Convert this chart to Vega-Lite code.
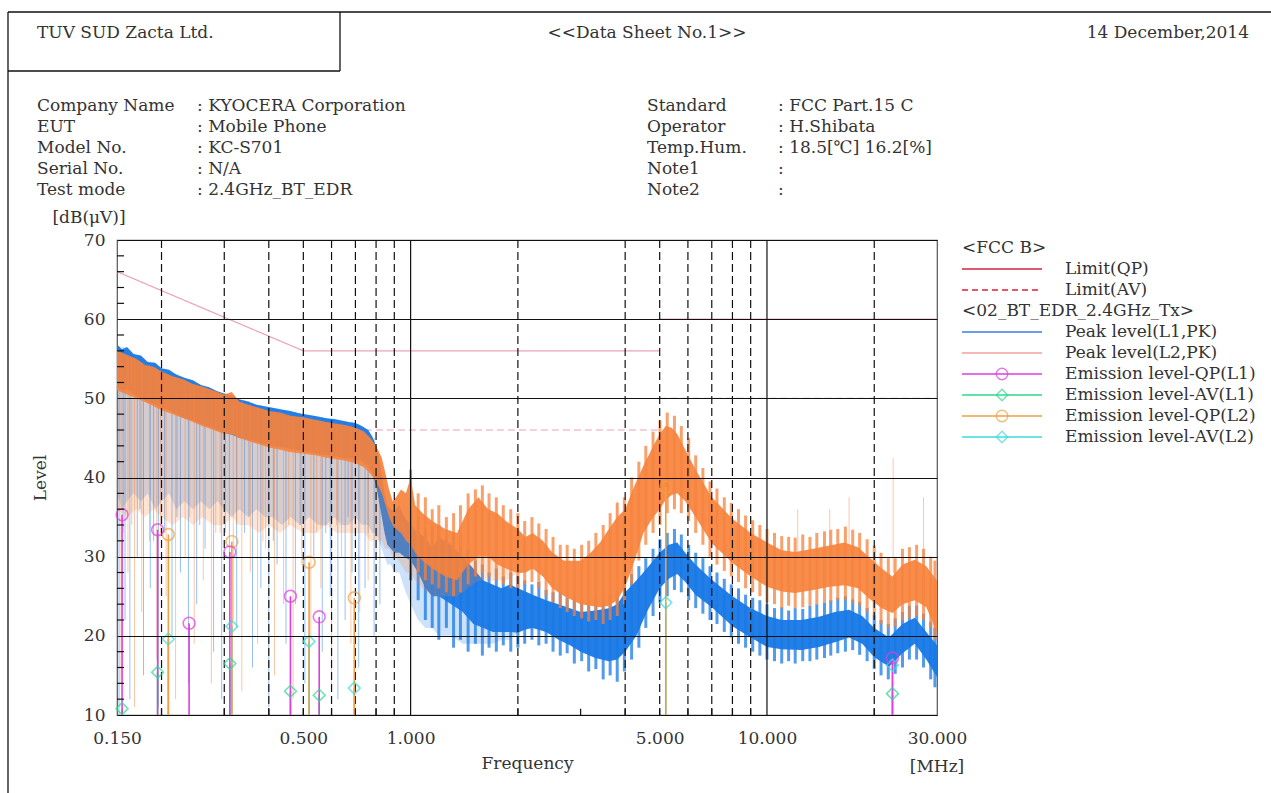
{
  "$schema": "https://vega.github.io/schema/vega-lite/v6.json",
  "width": 820,
  "height": 475,
  "autosize": {"type": "none"},
  "padding": {"left": 117, "top": 240, "right": 334, "bottom": 78},
  "background": "white",
  "config": {
    "view": {"stroke": "#555", "strokeWidth": 1.2},
    "font": "DejaVu Serif",
    "axis": {"labelFont": "DejaVu Serif", "titleFont": "DejaVu Serif", "labelFontSize": 17, "titleFontSize": 17, "labelColor": "#333", "titleColor": "#333", "titleFontWeight": "normal"}
  },
  "datasets": {
    "gridMinor": [{"f":0.2},{"f":0.3},{"f":0.4},{"f":0.5},{"f":0.6},{"f":0.7},{"f":0.8},{"f":0.9},{"f":2},{"f":4},{"f":5},{"f":6},{"f":7},{"f":8},{"f":9},{"f":20}],
    "gridMajor": [{"f":1},{"f":10}],
    "xt": [{"f":0.2},{"f":0.3},{"f":0.4},{"f":0.5},{"f":0.6},{"f":0.7},{"f":0.8},{"f":0.9},{"f":2},{"f":3},{"f":4},{"f":5},{"f":6},{"f":7},{"f":8},{"f":9},{"f":20}],
    "yt": [{"v":12},{"v":14},{"v":16},{"v":18},{"v":22},{"v":24},{"v":26},{"v":28},{"v":32},{"v":34},{"v":36},{"v":38},{"v":42},{"v":44},{"v":46},{"v":48},{"v":52},{"v":54},{"v":56},{"v":58},{"v":62},{"v":64},{"v":66},{"v":68}],
    "limits": [
      {"lim":"QP","seg":"QP1","f":0.15,"v":66},{"lim":"QP","seg":"QP1","f":0.5,"v":56},{"lim":"QP","seg":"QP1","f":5,"v":56},
      {"lim":"QP","seg":"QP2","f":5,"v":60},{"lim":"QP","seg":"QP2","f":30,"v":60},
      {"lim":"AV","seg":"AV1","f":0.15,"v":56},{"lim":"AV","seg":"AV1","f":0.5,"v":46},{"lim":"AV","seg":"AV1","f":5,"v":46},
      {"lim":"AV","seg":"AV2","f":5,"v":50},{"lim":"AV","seg":"AV2","f":30,"v":50}
    ],
    "pk1": [
      {"f":0.150,"hi":56.8,"lo":51.5,"lo2":38},{"f":0.155,"hi":56.2,"lo":51.0,"lo2":36},{"f":0.160,"hi":56.5,"lo":51.2,"lo2":37},{"f":0.167,"hi":55.6,"lo":50.5,"lo2":38},
      {"f":0.175,"hi":55.4,"lo":50.0,"lo2":37},{"f":0.183,"hi":54.6,"lo":49.6,"lo2":38},{"f":0.192,"hi":54.5,"lo":49.2,"lo2":36},{"f":0.200,"hi":53.8,"lo":48.8,"lo2":37},
      {"f":0.210,"hi":53.6,"lo":48.5,"lo2":38},{"f":0.220,"hi":53.0,"lo":48.0,"lo2":36},{"f":0.232,"hi":52.6,"lo":47.5,"lo2":37},{"f":0.245,"hi":52.3,"lo":47.2,"lo2":36},
      {"f":0.258,"hi":51.7,"lo":46.8,"lo2":37},{"f":0.272,"hi":51.4,"lo":46.4,"lo2":36},{"f":0.287,"hi":50.9,"lo":46.0,"lo2":37},{"f":0.300,"hi":50.6,"lo":45.6,"lo2":36},
      {"f":0.315,"hi":50.4,"lo":45.4,"lo2":35},{"f":0.330,"hi":49.9,"lo":45.0,"lo2":36},{"f":0.350,"hi":49.6,"lo":44.8,"lo2":35},{"f":0.370,"hi":49.2,"lo":44.5,"lo2":36},
      {"f":0.390,"hi":49.0,"lo":44.2,"lo2":35},{"f":0.410,"hi":48.8,"lo":44.0,"lo2":35},{"f":0.435,"hi":48.6,"lo":43.8,"lo2":34},{"f":0.460,"hi":48.4,"lo":43.6,"lo2":35},
      {"f":0.490,"hi":48.1,"lo":43.4,"lo2":34},{"f":0.520,"hi":47.9,"lo":43.2,"lo2":35},{"f":0.550,"hi":47.7,"lo":43.0,"lo2":34},{"f":0.580,"hi":47.5,"lo":42.8,"lo2":34},
      {"f":0.610,"hi":47.4,"lo":42.7,"lo2":35},{"f":0.640,"hi":47.2,"lo":42.5,"lo2":34},{"f":0.670,"hi":47.0,"lo":42.4,"lo2":34},{"f":0.700,"hi":46.9,"lo":42.3,"lo2":35},
      {"f":0.730,"hi":46.5,"lo":42.0,"lo2":34},{"f":0.760,"hi":46.0,"lo":41.5,"lo2":34},{"f":0.780,"hi":45.2,"lo":40.5,"lo2":33},{"f":0.800,"hi":44.0,"lo":39.0,"lo2":33},
      {"f":0.815,"hi":42.5,"lo":37.0,"lo2":32},{"f":0.830,"hi":40.5,"lo":35.0,"lo2":31},{"f":0.845,"hi":38.0,"lo":33.0,"lo2":30},{"f":0.860,"hi":36.5,"lo":31.5,"lo2":29},
      {"f":0.880,"hi":36.0,"lo":31.0,"lo2":29},{"f":0.900,"hi":35.8,"lo":30.5,"lo2":28},{"f":0.930,"hi":36.5,"lo":30.5,"lo2":28},{"f":0.960,"hi":35.0,"lo":30.0,"lo2":26},
      {"f":1.000,"hi":34.0,"lo":29.5,"lo2":24},{"f":1.050,"hi":33.0,"lo":28.0,"lo2":22},{"f":1.100,"hi":32.5,"lo":26.0,"lo2":21},{"f":1.150,"hi":31.0,"lo":25.0,"lo2":21},
      {"f":1.200,"hi":32.5,"lo":25.0,"lo2":20},{"f":1.300,"hi":31.5,"lo":24.0,"lo2":20},{"f":1.400,"hi":30.0,"lo":23.0,"lo2":19},{"f":1.500,"hi":28.5,"lo":21.5,"lo2":19},
      {"f":1.600,"hi":27.0,"lo":21.0,"lo2":19},{"f":1.700,"hi":26.5,"lo":20.5,"lo2":19},{"f":1.800,"hi":26.0,"lo":20.5,"lo2":19.5},{"f":1.900,"hi":26.5,"lo":20.5,"lo2":19.5},
      {"f":2.000,"hi":26.0,"lo":20.4,"lo2":20.4},{"f":2.100,"hi":25.6,"lo":20.8,"lo2":20.8},{"f":2.200,"hi":25.2,"lo":21.0,"lo2":21.0},{"f":2.400,"hi":24.5,"lo":20.5,"lo2":20.5},
      {"f":2.600,"hi":24.0,"lo":19.5,"lo2":19.5},{"f":2.800,"hi":23.5,"lo":18.8,"lo2":18.8},{"f":3.000,"hi":23.0,"lo":18.0,"lo2":18.0},{"f":3.300,"hi":23.2,"lo":17.2,"lo2":17.2},
      {"f":3.600,"hi":23.5,"lo":16.8,"lo2":16.8},{"f":3.800,"hi":24.0,"lo":17.0,"lo2":17.0},{"f":4.000,"hi":25.5,"lo":18.0,"lo2":18.0},{"f":4.300,"hi":27.0,"lo":20.0,"lo2":20.0},
      {"f":4.600,"hi":28.5,"lo":23.0,"lo2":23.0},{"f":5.000,"hi":30.5,"lo":26.0,"lo2":26.0},{"f":5.300,"hi":31.5,"lo":27.2,"lo2":27.2},{"f":5.600,"hi":31.8,"lo":27.8,"lo2":27.8},
      {"f":5.900,"hi":30.5,"lo":26.8,"lo2":26.8},{"f":6.300,"hi":29.0,"lo":25.2,"lo2":25.2},{"f":7.000,"hi":27.1,"lo":23.6,"lo2":23.6},{"f":8.000,"hi":25.0,"lo":21.2,"lo2":21.2},
      {"f":9.000,"hi":23.5,"lo":19.8,"lo2":19.8},{"f":10.00,"hi":22.5,"lo":18.6,"lo2":18.6},{"f":11.00,"hi":22.0,"lo":18.3,"lo2":18.3},{"f":12.50,"hi":22.0,"lo":18.2,"lo2":18.2},
      {"f":14.00,"hi":22.4,"lo":18.6,"lo2":18.6},{"f":15.50,"hi":23.0,"lo":19.2,"lo2":19.2},{"f":17.00,"hi":23.3,"lo":19.8,"lo2":19.8},{"f":18.50,"hi":22.5,"lo":19.0,"lo2":19.0},
      {"f":20.00,"hi":21.0,"lo":17.3,"lo2":17.3},{"f":22.00,"hi":19.8,"lo":16.1,"lo2":16.1},{"f":24.00,"hi":21.5,"lo":17.8,"lo2":17.8},{"f":26.00,"hi":22.3,"lo":19.0,"lo2":19.0},
      {"f":28.00,"hi":20.5,"lo":17.0,"lo2":17.0},{"f":30.00,"hi":18.8,"lo":14.8,"lo2":14.8}
    ],
    "pk2": [
      {"f":0.150,"hi":56.0,"lo":51.0,"lo2":36},{"f":0.160,"hi":55.5,"lo":50.5,"lo2":35},{"f":0.170,"hi":55.0,"lo":50.0,"lo2":36},{"f":0.180,"hi":54.2,"lo":49.5,"lo2":35},
      {"f":0.190,"hi":54.0,"lo":49.0,"lo2":36},{"f":0.200,"hi":53.4,"lo":48.5,"lo2":35},{"f":0.215,"hi":52.8,"lo":48.0,"lo2":34},{"f":0.230,"hi":52.4,"lo":47.5,"lo2":35},
      {"f":0.245,"hi":51.8,"lo":47.0,"lo2":34},{"f":0.260,"hi":51.5,"lo":46.5,"lo2":35},{"f":0.280,"hi":51.0,"lo":46.0,"lo2":34},{"f":0.300,"hi":50.5,"lo":45.5,"lo2":34},
      {"f":0.315,"hi":50.8,"lo":45.5,"lo2":35},{"f":0.330,"hi":49.6,"lo":45.0,"lo2":34},{"f":0.350,"hi":49.2,"lo":44.6,"lo2":34},{"f":0.375,"hi":48.8,"lo":44.2,"lo2":33},
      {"f":0.400,"hi":48.4,"lo":43.8,"lo2":34},{"f":0.430,"hi":48.2,"lo":43.5,"lo2":33},{"f":0.460,"hi":47.8,"lo":43.2,"lo2":34},{"f":0.500,"hi":47.6,"lo":43.0,"lo2":33},
      {"f":0.540,"hi":47.3,"lo":42.8,"lo2":33},{"f":0.580,"hi":47.0,"lo":42.5,"lo2":34},{"f":0.620,"hi":46.8,"lo":42.3,"lo2":33},{"f":0.660,"hi":46.6,"lo":42.1,"lo2":33},
      {"f":0.700,"hi":46.3,"lo":41.8,"lo2":33},{"f":0.740,"hi":45.8,"lo":41.3,"lo2":33},{"f":0.770,"hi":45.0,"lo":40.5,"lo2":32},{"f":0.800,"hi":44.0,"lo":39.5,"lo2":32},
      {"f":0.830,"hi":42.5,"lo":38.0,"lo2":32},{"f":0.850,"hi":40.5,"lo":36.5,"lo2":31},{"f":0.870,"hi":38.5,"lo":35.0,"lo2":31},{"f":0.890,"hi":37.0,"lo":34.0,"lo2":30},
      {"f":0.910,"hi":37.5,"lo":33.5,"lo2":30},{"f":0.940,"hi":38.5,"lo":33.0,"lo2":29},{"f":0.970,"hi":38.0,"lo":32.0,"lo2":28},{"f":1.000,"hi":40.0,"lo":31.5,"lo2":28},
      {"f":1.030,"hi":36.5,"lo":30.5,"lo2":27},{"f":1.080,"hi":35.5,"lo":29.5,"lo2":26},{"f":1.150,"hi":34.5,"lo":28.5,"lo2":25},{"f":1.250,"hi":33.5,"lo":27.5,"lo2":25},
      {"f":1.350,"hi":33.0,"lo":27.0,"lo2":25},{"f":1.450,"hi":36.0,"lo":29.0,"lo2":26},{"f":1.550,"hi":37.5,"lo":30.0,"lo2":27},{"f":1.650,"hi":36.0,"lo":30.0,"lo2":27},
      {"f":1.750,"hi":35.5,"lo":29.0,"lo2":27},{"f":1.850,"hi":34.5,"lo":28.5,"lo2":27},{"f":2.000,"hi":33.5,"lo":27.9,"lo2":27.9},{"f":2.100,"hi":32.5,"lo":28.0,"lo2":28.0},
      {"f":2.200,"hi":33.0,"lo":28.5,"lo2":28.5},{"f":2.350,"hi":32.0,"lo":27.5,"lo2":27.5},{"f":2.500,"hi":30.5,"lo":26.0,"lo2":26.0},{"f":2.700,"hi":29.5,"lo":25.0,"lo2":25.0},
      {"f":3.000,"hi":29.5,"lo":24.0,"lo2":24.0},{"f":3.200,"hi":30.5,"lo":23.8,"lo2":23.8},{"f":3.400,"hi":31.8,"lo":23.6,"lo2":23.6},{"f":3.600,"hi":33.5,"lo":23.8,"lo2":23.8},
      {"f":3.800,"hi":35.0,"lo":24.5,"lo2":24.5},{"f":4.000,"hi":36.0,"lo":26.2,"lo2":26.2},{"f":4.250,"hi":39.0,"lo":29.5,"lo2":29.5},{"f":4.500,"hi":41.5,"lo":33.0,"lo2":33.0},
      {"f":4.800,"hi":44.0,"lo":35.0,"lo2":35.0},{"f":5.000,"hi":45.5,"lo":36.0,"lo2":36.0},{"f":5.200,"hi":46.5,"lo":37.2,"lo2":37.2},{"f":5.400,"hi":46.3,"lo":37.8,"lo2":37.8},
      {"f":5.600,"hi":45.5,"lo":38.0,"lo2":38.0},{"f":5.900,"hi":43.5,"lo":37.0,"lo2":37.0},{"f":6.300,"hi":41.0,"lo":35.0,"lo2":35.0},{"f":7.000,"hi":37.5,"lo":31.7,"lo2":31.7},
      {"f":8.000,"hi":34.8,"lo":29.2,"lo2":29.2},{"f":9.000,"hi":33.0,"lo":27.5,"lo2":27.5},{"f":10.00,"hi":31.8,"lo":26.2,"lo2":26.2},{"f":11.00,"hi":30.8,"lo":25.6,"lo2":25.6},
      {"f":12.00,"hi":30.6,"lo":25.4,"lo2":25.4},{"f":13.50,"hi":31.0,"lo":25.8,"lo2":25.8},{"f":15.00,"hi":31.4,"lo":26.2,"lo2":26.2},{"f":16.50,"hi":31.8,"lo":26.4,"lo2":26.4},
      {"f":18.00,"hi":31.2,"lo":26.0,"lo2":26.0},{"f":19.50,"hi":29.8,"lo":24.6,"lo2":24.6},{"f":21.00,"hi":28.5,"lo":23.5,"lo2":23.5},{"f":22.50,"hi":27.5,"lo":22.9,"lo2":22.9},
      {"f":24.00,"hi":29.0,"lo":24.0,"lo2":24.0},{"f":26.00,"hi":29.6,"lo":24.5,"lo2":24.5},{"f":28.00,"hi":28.8,"lo":23.6,"lo2":23.6},{"f":30.00,"hi":27.0,"lo":20.4,"lo2":20.4}
    ],
    "sp1": [
      {"f":0.152,"top":56,"bot":10},{"f":0.158,"top":55.5,"bot":22},{"f":0.163,"top":55,"bot":12},{"f":0.171,"top":55,"bot":30},{"f":0.178,"top":54.5,"bot":15},
      {"f":0.186,"top":54,"bot":26},{"f":0.196,"top":53.5,"bot":11},{"f":0.204,"top":53,"bot":33},{"f":0.214,"top":52.8,"bot":20},{"f":0.226,"top":52.4,"bot":28},
      {"f":0.238,"top":52,"bot":14},{"f":0.251,"top":51.6,"bot":24},{"f":0.265,"top":51.2,"bot":31},{"f":0.280,"top":51,"bot":18},{"f":0.295,"top":50.6,"bot":12},
      {"f":0.310,"top":50.3,"bot":27},{"f":0.325,"top":50,"bot":21},{"f":0.342,"top":49.7,"bot":33},{"f":0.360,"top":49.4,"bot":16},{"f":0.380,"top":49.1,"bot":26},
      {"f":0.400,"top":48.9,"bot":11},{"f":0.422,"top":48.7,"bot":29},{"f":0.447,"top":48.5,"bot":19},{"f":0.475,"top":48.2,"bot":24},{"f":0.505,"top":48,"bot":14},
      {"f":0.535,"top":47.8,"bot":30},{"f":0.565,"top":47.6,"bot":18},{"f":0.595,"top":47.4,"bot":25},{"f":0.625,"top":47.3,"bot":12},{"f":0.655,"top":47.1,"bot":22},
      {"f":0.685,"top":47,"bot":28},{"f":0.715,"top":46.7,"bot":16},{"f":0.745,"top":46.2,"bot":26},{"f":0.790,"top":45,"bot":20},{"f":0.820,"top":42,"bot":24},
      {"f":0.156,"top":56.5,"bot":33},{"f":0.174,"top":55.2,"bot":36},{"f":0.190,"top":54.3,"bot":32},{"f":0.221,"top":53,"bot":35},{"f":0.256,"top":51.8,"bot":34},
      {"f":0.302,"top":50.6,"bot":33},{"f":0.352,"top":49.6,"bot":35},{"f":0.412,"top":48.8,"bot":32},{"f":0.490,"top":48.1,"bot":34},{"f":0.578,"top":47.5,"bot":33},
      {"f":0.668,"top":47,"bot":35},{"f":0.760,"top":46,"bot":33}
    ],
    "sp2": [
      {"f":0.154,"top":55.8,"bot":14},{"f":0.161,"top":55.4,"bot":28},{"f":0.168,"top":55,"bot":11},{"f":0.176,"top":54.6,"bot":23},{"f":0.185,"top":54.2,"bot":32},
      {"f":0.194,"top":53.8,"bot":17},{"f":0.206,"top":53.2,"bot":25},{"f":0.219,"top":52.7,"bot":12},{"f":0.233,"top":52.3,"bot":30},{"f":0.247,"top":51.8,"bot":19},
      {"f":0.262,"top":51.4,"bot":27},{"f":0.276,"top":51,"bot":14},{"f":0.292,"top":50.6,"bot":33},{"f":0.318,"top":50.5,"bot":22},{"f":0.336,"top":49.6,"bot":13},
      {"f":0.355,"top":49.2,"bot":28},{"f":0.372,"top":48.9,"bot":19},{"f":0.392,"top":48.6,"bot":31},{"f":0.415,"top":48.3,"bot":15},{"f":0.440,"top":48.1,"bot":24},
      {"f":0.468,"top":47.8,"bot":12},{"f":0.495,"top":47.6,"bot":29},{"f":0.525,"top":47.4,"bot":20},{"f":0.560,"top":47.1,"bot":26},{"f":0.600,"top":46.9,"bot":13},
      {"f":0.640,"top":46.7,"bot":30},{"f":0.680,"top":46.5,"bot":19},{"f":0.720,"top":46,"bot":23},{"f":0.760,"top":45.3,"bot":27},{"f":0.800,"top":44,"bot":30},
      {"f":0.165,"top":55.2,"bot":34},{"f":0.199,"top":53.5,"bot":33},{"f":0.240,"top":52,"bot":35},{"f":0.284,"top":51,"bot":33},{"f":0.325,"top":50,"bot":34},
      {"f":0.385,"top":48.7,"bot":32},{"f":0.455,"top":47.9,"bot":34},{"f":0.545,"top":47.3,"bot":33},{"f":0.620,"top":46.8,"bot":34},{"f":0.700,"top":46.3,"bot":32},
      {"f":1.0,"top":41,"bot":33},{"f":3.8,"top":37,"bot":30},{"f":12.2,"top":36,"bot":30},{"f":15,"top":36,"bot":30},{"f":17,"top":37.5,"bot":31},{"f":22.6,"top":42.5,"bot":28},{"f":27.5,"top":37.5,"bot":29}
    ],
    "fz1": [
      {"f":1.0,"top":35.5,"bot":27},{"f":1.05,"top":35.0,"bot":24.5},{"f":1.1,"top":33.5,"bot":22},{"f":1.15,"top":33.8,"bot":21},{"f":1.2,"top":34,"bot":19.5},
      {"f":1.26,"top":32.5,"bot":21},{"f":1.32,"top":33,"bot":18.5},{"f":1.38,"top":31.5,"bot":19.5},{"f":1.45,"top":31,"bot":18},{"f":1.52,"top":29.5,"bot":19},
      {"f":1.59,"top":29,"bot":17.5},{"f":1.66,"top":28,"bot":18.5},{"f":1.74,"top":28.5,"bot":18},{"f":1.82,"top":27.5,"bot":18.8},{"f":1.91,"top":28,"bot":18},
      {"f":2.0,"top":27.5,"bot":18.5},{"f":2.09,"top":27,"bot":19},{"f":2.19,"top":26.5,"bot":19.5},{"f":2.29,"top":26.8,"bot":18.8},{"f":2.4,"top":25.8,"bot":19},
      {"f":2.51,"top":25.5,"bot":18},{"f":2.63,"top":25.6,"bot":17.5},{"f":2.75,"top":24.8,"bot":17.8},{"f":2.88,"top":25,"bot":16.5},{"f":3.02,"top":24.4,"bot":16.8},
      {"f":3.16,"top":24.5,"bot":15.5},{"f":3.31,"top":25,"bot":15.8},{"f":3.47,"top":24.6,"bot":14.5},{"f":3.63,"top":25.2,"bot":15},{"f":3.8,"top":25.5,"bot":14.2},
      {"f":3.98,"top":26.8,"bot":15.5},{"f":4.17,"top":27.8,"bot":17},{"f":4.37,"top":28.8,"bot":18.5},{"f":4.57,"top":29.8,"bot":21},{"f":4.79,"top":31,"bot":22.5},
      {"f":5.01,"top":32.2,"bot":24.2},{"f":5.25,"top":33,"bot":25},{"f":5.5,"top":33.5,"bot":25.8},{"f":5.75,"top":32.8,"bot":25.5},{"f":6.03,"top":31.5,"bot":24.5},
      {"f":6.31,"top":30.5,"bot":23.5},{"f":6.61,"top":29.8,"bot":22.8},{"f":6.92,"top":28.8,"bot":22},{"f":7.24,"top":28,"bot":21.5},{"f":7.59,"top":27.2,"bot":20.5},
      {"f":7.94,"top":26.5,"bot":19.8},{"f":8.32,"top":26,"bot":19},{"f":8.71,"top":25.2,"bot":18.5},{"f":9.12,"top":24.8,"bot":18},{"f":9.55,"top":24.5,"bot":17.5},
      {"f":10,"top":24,"bot":17},{"f":10.5,"top":23.5,"bot":16.8},{"f":11,"top":23.6,"bot":16.5},{"f":11.5,"top":23.2,"bot":16.8},{"f":12,"top":23.5,"bot":16.5},
      {"f":12.6,"top":23.4,"bot":16.8},{"f":13.2,"top":23.8,"bot":16.8},{"f":13.8,"top":24,"bot":17},{"f":14.5,"top":24.2,"bot":17.2},{"f":15.1,"top":24.5,"bot":17.5},
      {"f":15.8,"top":24.8,"bot":17.8},{"f":16.6,"top":25,"bot":18},{"f":17.4,"top":24.6,"bot":18.2},{"f":18.2,"top":24.3,"bot":17.6},{"f":19.1,"top":23.5,"bot":16.8},
      {"f":20,"top":22.6,"bot":15.8},{"f":20.9,"top":22,"bot":15},{"f":21.9,"top":21.5,"bot":14.5},{"f":22.9,"top":22.2,"bot":15.2},{"f":24,"top":23,"bot":16},
      {"f":25.1,"top":23.8,"bot":17},{"f":26.3,"top":23.8,"bot":17},{"f":27.5,"top":22.8,"bot":16},{"f":28.8,"top":21.8,"bot":14.5},{"f":29.6,"top":21,"bot":13.5}
    ],
    "fz2": [
      {"f":1.0,"top":41,"bot":29},{"f":1.05,"top":38,"bot":28},{"f":1.1,"top":37.5,"bot":27},{"f":1.15,"top":36,"bot":26.5},{"f":1.2,"top":36.5,"bot":26},
      {"f":1.26,"top":35,"bot":25.5},{"f":1.32,"top":35.5,"bot":25},{"f":1.38,"top":36.5,"bot":25.5},{"f":1.45,"top":38,"bot":26.5},{"f":1.52,"top":38.5,"bot":27.5},
      {"f":1.59,"top":39,"bot":28},{"f":1.66,"top":38,"bot":27.5},{"f":1.74,"top":37.5,"bot":27},{"f":1.82,"top":36.5,"bot":26.5},{"f":1.91,"top":36,"bot":26},
      {"f":2.0,"top":35.5,"bot":26},{"f":2.09,"top":34.5,"bot":26.5},{"f":2.19,"top":35,"bot":26.8},{"f":2.29,"top":34.2,"bot":26},{"f":2.4,"top":33.5,"bot":25},
      {"f":2.51,"top":32.5,"bot":24.2},{"f":2.63,"top":31.5,"bot":23.5},{"f":2.75,"top":31.5,"bot":23},{"f":2.88,"top":31,"bot":22.5},{"f":3.02,"top":31.5,"bot":22.2},
      {"f":3.16,"top":32,"bot":21.8},{"f":3.31,"top":33,"bot":22},{"f":3.47,"top":34,"bot":21.5},{"f":3.63,"top":35.5,"bot":22},{"f":3.8,"top":36.8,"bot":22.5},
      {"f":3.98,"top":37.5,"bot":24},{"f":4.17,"top":40,"bot":26.5},{"f":4.37,"top":42,"bot":29.5},{"f":4.57,"top":44,"bot":31.5},{"f":4.79,"top":45.8,"bot":33},
      {"f":5.01,"top":47.2,"bot":34},{"f":5.25,"top":48.2,"bot":35.5},{"f":5.5,"top":47.8,"bot":36},{"f":5.75,"top":46.5,"bot":35.5},{"f":6.03,"top":45,"bot":34.5},
      {"f":6.31,"top":42.8,"bot":33},{"f":6.61,"top":41.2,"bot":31.5},{"f":6.92,"top":39.5,"bot":30},{"f":7.24,"top":38.6,"bot":29},{"f":7.59,"top":37.5,"bot":28.2},
      {"f":7.94,"top":36.8,"bot":27.5},{"f":8.32,"top":36,"bot":26.8},{"f":8.71,"top":35.2,"bot":26},{"f":9.12,"top":34.6,"bot":25.5},{"f":9.55,"top":34,"bot":25},
      {"f":10,"top":33.5,"bot":24.2},{"f":10.5,"top":33,"bot":24},{"f":11,"top":32.6,"bot":23.5},{"f":11.5,"top":32.5,"bot":23.8},{"f":12,"top":32.4,"bot":23.5},
      {"f":12.6,"top":32.8,"bot":23.6},{"f":13.2,"top":32.5,"bot":23.8},{"f":13.8,"top":33,"bot":24},{"f":14.5,"top":33.2,"bot":24.2},{"f":15.1,"top":33.4,"bot":24.2},
      {"f":15.8,"top":33.5,"bot":24.5},{"f":16.6,"top":33.8,"bot":24.5},{"f":17.4,"top":33.4,"bot":24.2},{"f":18.2,"top":33,"bot":23.8},{"f":19.1,"top":32.2,"bot":23},
      {"f":20,"top":31.4,"bot":22.4},{"f":20.9,"top":30.5,"bot":21.5},{"f":21.9,"top":29.8,"bot":21},{"f":22.9,"top":29.8,"bot":21.2},{"f":24,"top":31,"bot":22},
      {"f":25.1,"top":31.2,"bot":22.2},{"f":26.3,"top":31.5,"bot":22.5},{"f":27.5,"top":31,"bot":22},{"f":28.8,"top":30,"bot":21},{"f":29.6,"top":29.5,"bot":19.5}
    ],
    "em": [
      {"k":"AV(L1)","det":"AV","f":0.155,"v":10.8},{"k":"AV(L1)","det":"AV","f":0.195,"v":15.4},{"k":"AV(L1)","det":"AV","f":0.311,"v":16.5},
      {"k":"AV(L1)","det":"AV","f":0.46,"v":13.0},{"k":"AV(L1)","det":"AV","f":0.554,"v":12.5},{"k":"AV(L1)","det":"AV","f":22.5,"v":12.7},
      {"k":"AV(L2)","det":"AV","f":0.209,"v":19.6},{"k":"AV(L2)","det":"AV","f":0.315,"v":21.2},{"k":"AV(L2)","det":"AV","f":0.519,"v":19.3},
      {"k":"AV(L2)","det":"AV","f":0.695,"v":13.4},{"k":"AV(L2)","det":"AV","f":5.2,"v":24.2},{"k":"AV(L2)","det":"AV","f":22.5,"v":16.3},
      {"k":"QP(L2)","det":"QP","f":0.209,"v":32.8},{"k":"QP(L2)","det":"QP","f":0.315,"v":31.9},{"k":"QP(L2)","det":"QP","f":0.519,"v":29.3},
      {"k":"QP(L2)","det":"QP","f":0.695,"v":24.8},{"k":"QP(L2)","det":"QP","f":5.2,"v":38.8},
      {"k":"QP(L1)","det":"QP","f":0.155,"v":35.3},{"k":"QP(L1)","det":"QP","f":0.195,"v":33.4},{"k":"QP(L1)","det":"QP","f":0.239,"v":21.6},
      {"k":"QP(L1)","det":"QP","f":0.311,"v":30.6},{"k":"QP(L1)","det":"QP","f":0.46,"v":25.0},{"k":"QP(L1)","det":"QP","f":0.554,"v":22.4},{"k":"QP(L1)","det":"QP","f":22.5,"v":17.2}
    ],
    "legend": [
      {"i":0,"label":"<FCC B>","role":"head"},
      {"i":1,"label":"Limit(QP)","role":"item"},
      {"i":2,"label":"Limit(AV)","role":"item"},
      {"i":3,"label":"<02_BT_EDR_2.4GHz_Tx>","role":"head"},
      {"i":4,"label":"Peak level(L1,PK)","role":"item"},
      {"i":5,"label":"Peak level(L2,PK)","role":"item"},
      {"i":6,"label":"Emission level-QP(L1)","role":"item"},
      {"i":7,"label":"Emission level-AV(L1)","role":"item"},
      {"i":8,"label":"Emission level-QP(L2)","role":"item"},
      {"i":9,"label":"Emission level-AV(L2)","role":"item"}
    ],
    "header": [
      {"row":-1,"col":0,"text":"TUV SUD Zacta Ltd.","part":"left"},
      {"row":-1,"col":2,"text":"<<Data Sheet No.1>>","part":"center"},
      {"row":-1,"col":4,"text":"14 December,2014","part":"right"},
      {"row":0,"col":0,"text":"Company Name","part":"left"},{"row":0,"col":1,"text":": KYOCERA Corporation","part":"left"},{"row":0,"col":2,"text":"Standard","part":"left"},{"row":0,"col":3,"text":": FCC Part.15 C","part":"left"},
      {"row":1,"col":0,"text":"EUT","part":"left"},{"row":1,"col":1,"text":": Mobile Phone","part":"left"},{"row":1,"col":2,"text":"Operator","part":"left"},{"row":1,"col":3,"text":": H.Shibata","part":"left"},
      {"row":2,"col":0,"text":"Model No.","part":"left"},{"row":2,"col":1,"text":": KC-S701","part":"left"},{"row":2,"col":2,"text":"Temp.Hum.","part":"left"},{"row":2,"col":3,"text":": 18.5[℃]  16.2[%]","part":"left"},
      {"row":3,"col":0,"text":"Serial No.","part":"left"},{"row":3,"col":1,"text":": N/A","part":"left"},{"row":3,"col":2,"text":"Note1","part":"left"},{"row":3,"col":3,"text":":","part":"left"},
      {"row":4,"col":0,"text":"Test mode","part":"left"},{"row":4,"col":1,"text":": 2.4GHz_BT_EDR","part":"left"},{"row":4,"col":2,"text":"Note2","part":"left"},{"row":4,"col":3,"text":":","part":"left"}
    ]
  },
  "layer": [
    {
      "layer": [
        {
          "data": {"name": "limits"},
          "mark": {"type": "line", "color": "#eba2b4", "strokeWidth": 1.2},
          "encoding": {
            "x": {"field": "f", "type": "quantitative",
              "scale": {"type": "log", "domain": [0.15, 30], "nice": false, "zero": false},
              "axis": {"values": [0.15, 0.5, 1, 5, 10, 30], "format": ".3f", "grid": false, "ticks": false, "domain": false, "labelPadding": 15, "labelFlush": false, "labelOverlap": false, "labelBound": false, "title": "Frequency", "titlePadding": 9}},
            "y": {"field": "v", "type": "quantitative",
              "scale": {"domain": [10, 70], "nice": false, "zero": false},
              "axis": {"values": [10, 20, 30, 40, 50, 60, 70], "grid": true, "gridColor": "#111", "gridWidth": 1, "ticks": false, "domain": false, "labelPadding": 12, "title": "Level", "titlePadding": 34, "zindex": 1}},
            "detail": {"field": "seg"},
            "strokeDash": {"field": "lim", "type": "nominal", "scale": {"domain": ["QP", "AV"], "range": [[1, 0], [7, 4]]}, "legend": null}
          }
        },
        {
          "data": {"name": "pk1"},
          "mark": {"type": "area", "color": "#1778e6", "opacity": 0.22},
          "encoding": {"x": {"field": "f", "type": "quantitative"}, "y": {"field": "lo", "type": "quantitative"}, "y2": {"field": "lo2"}}
        },
        {
          "data": {"name": "sp1"},
          "mark": {"type": "rule", "color": "#1778e6", "opacity": 0.45, "strokeWidth": 1},
          "encoding": {"x": {"field": "f", "type": "quantitative"}, "y": {"field": "top", "type": "quantitative"}, "y2": {"field": "bot"}}
        },
        {
          "data": {"name": "fz1"},
          "mark": {"type": "rule", "color": "#1778e6", "opacity": 0.75, "strokeWidth": 3},
          "encoding": {"x": {"field": "f", "type": "quantitative"}, "y": {"field": "top", "type": "quantitative"}, "y2": {"field": "bot"}}
        },
        {
          "data": {"name": "pk1"},
          "mark": {"type": "area", "color": "#1778e6", "opacity": 0.95},
          "encoding": {"x": {"field": "f", "type": "quantitative"}, "y": {"field": "hi", "type": "quantitative"}, "y2": {"field": "lo"}}
        },
        {
          "data": {"name": "pk2"},
          "mark": {"type": "area", "color": "#f7823c", "opacity": 0.22},
          "encoding": {"x": {"field": "f", "type": "quantitative"}, "y": {"field": "lo", "type": "quantitative"}, "y2": {"field": "lo2"}}
        },
        {
          "data": {"name": "sp2"},
          "mark": {"type": "rule", "color": "#f7823c", "opacity": 0.45, "strokeWidth": 1},
          "encoding": {"x": {"field": "f", "type": "quantitative"}, "y": {"field": "top", "type": "quantitative"}, "y2": {"field": "bot"}}
        },
        {
          "data": {"name": "fz2"},
          "mark": {"type": "rule", "color": "#f7823c", "opacity": 0.75, "strokeWidth": 3},
          "encoding": {"x": {"field": "f", "type": "quantitative"}, "y": {"field": "top", "type": "quantitative"}, "y2": {"field": "bot"}}
        },
        {
          "data": {"name": "pk2"},
          "mark": {"type": "area", "color": "#f7823c", "opacity": 0.92},
          "encoding": {"x": {"field": "f", "type": "quantitative"}, "y": {"field": "hi", "type": "quantitative"}, "y2": {"field": "lo"}}
        },
        {
          "data": {"name": "gridMinor"},
          "mark": {"type": "rule", "color": "#111", "strokeWidth": 1.2, "strokeDash": [8, 4]},
          "encoding": {"x": {"field": "f", "type": "quantitative"}}
        },
        {
          "data": {"name": "gridMajor"},
          "mark": {"type": "rule", "color": "#111", "strokeWidth": 1.2},
          "encoding": {"x": {"field": "f", "type": "quantitative"}}
        },
        {
          "data": {"name": "em"},
          "mark": {"type": "rule", "strokeWidth": 1.6},
          "encoding": {
            "x": {"field": "f", "type": "quantitative"},
            "y": {"field": "v", "type": "quantitative"},
            "y2": {"datum": 10},
            "color": {"field": "k", "type": "nominal", "scale": {"domain": ["QP(L1)", "AV(L1)", "QP(L2)", "AV(L2)"], "range": ["#e03ee0", "#30d890", "#f0a040", "#3cdcdc"]}, "legend": null}
          }
        },
        {
          "data": {"name": "em"},
          "mark": {"type": "point", "filled": false, "size": 140, "strokeWidth": 1.6},
          "encoding": {
            "x": {"field": "f", "type": "quantitative"},
            "y": {"field": "v", "type": "quantitative"},
            "color": {"field": "k", "type": "nominal", "legend": null},
            "shape": {"field": "det", "type": "nominal", "scale": {"domain": ["QP", "AV"], "range": ["circle", "diamond"]}, "legend": null}
          }
        },
        {
          "data": {"name": "xt"},
          "mark": {"type": "rule", "color": "#111", "strokeWidth": 1.2},
          "encoding": {"x": {"field": "f", "type": "quantitative"}, "y": {"datum": 10}, "y2": {"datum": 10.8}}
        },
        {
          "data": {"name": "yt"},
          "mark": {"type": "rule", "color": "#111", "strokeWidth": 1.2},
          "encoding": {"y": {"field": "v", "type": "quantitative"}, "x": {"datum": 0.15}, "x2": {"datum": 0.157}}
        },
        {
          "data": {"values": [{"t": "[dB(μV)]"}]},
          "mark": {"type": "text", "font": "DejaVu Serif", "fontSize": 17, "color": "#333", "align": "center", "baseline": "middle", "dx": -28, "dy": -22},
          "encoding": {"x": {"datum": 0.15}, "y": {"datum": 70}, "text": {"field": "t"}}
        },
        {
          "data": {"values": [{"t": "[MHz]"}]},
          "mark": {"type": "text", "font": "DejaVu Serif", "fontSize": 17, "color": "#333", "align": "center", "baseline": "middle", "dy": 52},
          "encoding": {"x": {"datum": 30}, "y": {"datum": 10}, "text": {"field": "t"}}
        }
      ]
    },
    {
      "data": {"name": "legend"},
      "layer": [
        {
          "transform": [{"filter": "datum.role == 'item'"}],
          "mark": {"type": "rule", "strokeWidth": 1.3},
          "encoding": {
            "x": {"datum": 0, "type": "quantitative", "scale": {"domain": [0, 1], "range": [845, 925], "nice": false, "zero": false}, "axis": null},
            "x2": {"datum": 1},
            "y": {"field": "i", "type": "quantitative", "scale": {"domain": [0, 9], "range": [8, 197], "nice": false, "zero": false}, "axis": null},
            "color": {"field": "label", "type": "nominal", "scale": {
              "domain": ["Limit(QP)", "Limit(AV)", "Peak level(L1,PK)", "Peak level(L2,PK)", "Emission level-QP(L1)", "Emission level-AV(L1)", "Emission level-QP(L2)", "Emission level-AV(L2)"],
              "range": ["#d8203f", "#d8203f", "#3b80d4", "#f2a09a", "#e03ee0", "#30d890", "#f0a040", "#3cdcdc"]}, "legend": null},
            "strokeDash": {"field": "label", "type": "nominal", "scale": {
              "domain": ["Limit(QP)", "Limit(AV)", "Peak level(L1,PK)", "Peak level(L2,PK)", "Emission level-QP(L1)", "Emission level-AV(L1)", "Emission level-QP(L2)", "Emission level-AV(L2)"],
              "range": [[1, 0], [6, 4], [1, 0], [1, 0], [1, 0], [1, 0], [1, 0], [1, 0]]}, "legend": null}
          }
        },
        {
          "transform": [{"filter": "indexof(datum.label, 'Emission') == 0"}],
          "mark": {"type": "point", "filled": false, "size": 130, "strokeWidth": 1.4},
          "encoding": {
            "x": {"datum": 0.5, "type": "quantitative"},
            "y": {"field": "i", "type": "quantitative"},
            "color": {"field": "label", "type": "nominal", "legend": null},
            "shape": {"field": "label", "type": "nominal", "scale": {"domain": ["Emission level-QP(L1)", "Emission level-AV(L1)", "Emission level-QP(L2)", "Emission level-AV(L2)"], "range": ["circle", "diamond", "circle", "diamond"]}, "legend": null}
          }
        },
        {
          "transform": [{"filter": "datum.role == 'head'"}],
          "mark": {"type": "text", "font": "DejaVu Serif", "fontSize": 17, "color": "#333", "align": "left", "baseline": "middle"},
          "encoding": {"x": {"datum": 0, "type": "quantitative"}, "y": {"field": "i", "type": "quantitative"}, "text": {"field": "label"}}
        },
        {
          "transform": [{"filter": "datum.role == 'item'"}],
          "mark": {"type": "text", "font": "DejaVu Serif", "fontSize": 17, "color": "#333", "align": "left", "baseline": "middle", "dx": 23},
          "encoding": {"x": {"datum": 1, "type": "quantitative"}, "y": {"field": "i", "type": "quantitative"}, "text": {"field": "label"}}
        }
      ]
    },
    {
      "data": {"name": "header"},
      "layer": [
        {
          "transform": [{"filter": "datum.part == 'left'"}],
          "mark": {"type": "text", "font": "DejaVu Serif", "fontSize": 17, "color": "#333", "align": "left", "baseline": "middle"},
          "encoding": {
            "x": {"field": "col", "type": "quantitative", "scale": {"domain": [0, 1, 2, 3, 4], "range": [-80, 80, 530, 661, 1132], "nice": false, "zero": false}, "axis": null},
            "y": {"field": "row", "type": "quantitative", "scale": {"domain": [-1, 0, 4], "range": [-207, -134, -50], "nice": false, "zero": false}, "axis": null},
            "text": {"field": "text"}
          }
        },
        {
          "transform": [{"filter": "datum.part == 'center'"}],
          "mark": {"type": "text", "font": "DejaVu Serif", "fontSize": 17, "color": "#333", "align": "center", "baseline": "middle"},
          "encoding": {"x": {"field": "col", "type": "quantitative"}, "y": {"field": "row", "type": "quantitative"}, "text": {"field": "text"}}
        },
        {
          "transform": [{"filter": "datum.part == 'right'"}],
          "mark": {"type": "text", "font": "DejaVu Serif", "fontSize": 17, "color": "#333", "align": "right", "baseline": "middle"},
          "encoding": {"x": {"field": "col", "type": "quantitative"}, "y": {"field": "row", "type": "quantitative"}, "text": {"field": "text"}}
        }
      ]
    },
    {
      "data": {"values": [{}]},
      "layer": [
        {
          "mark": {"type": "rule", "color": "#111", "strokeWidth": 1.3},
          "encoding": {
            "x": {"datum": 8, "type": "quantitative", "scale": {"domain": [0, 1271], "range": [-117, 1154], "nice": false, "zero": false}, "axis": null},
            "x2": {"datum": 1271},
            "y": {"datum": 12, "type": "quantitative", "scale": {"domain": [0, 793], "range": [-240, 553], "nice": false, "zero": false}, "axis": null}
          }
        },
        {
          "mark": {"type": "rule", "color": "#111", "strokeWidth": 1.3},
          "encoding": {"x": {"datum": 8, "type": "quantitative"}, "y": {"datum": 12, "type": "quantitative"}, "y2": {"datum": 793}}
        },
        {
          "mark": {"type": "rule", "color": "#111", "strokeWidth": 1.3},
          "encoding": {"x": {"datum": 340, "type": "quantitative"}, "y": {"datum": 12, "type": "quantitative"}, "y2": {"datum": 71}}
        },
        {
          "mark": {"type": "rule", "color": "#111", "strokeWidth": 1.3},
          "encoding": {"x": {"datum": 8, "type": "quantitative"}, "x2": {"datum": 340}, "y": {"datum": 71, "type": "quantitative"}}
        }
      ]
    }
  ],
  "resolve": {"scale": {"x": "independent", "y": "independent", "color": "independent", "shape": "independent", "strokeDash": "independent"}}
}
